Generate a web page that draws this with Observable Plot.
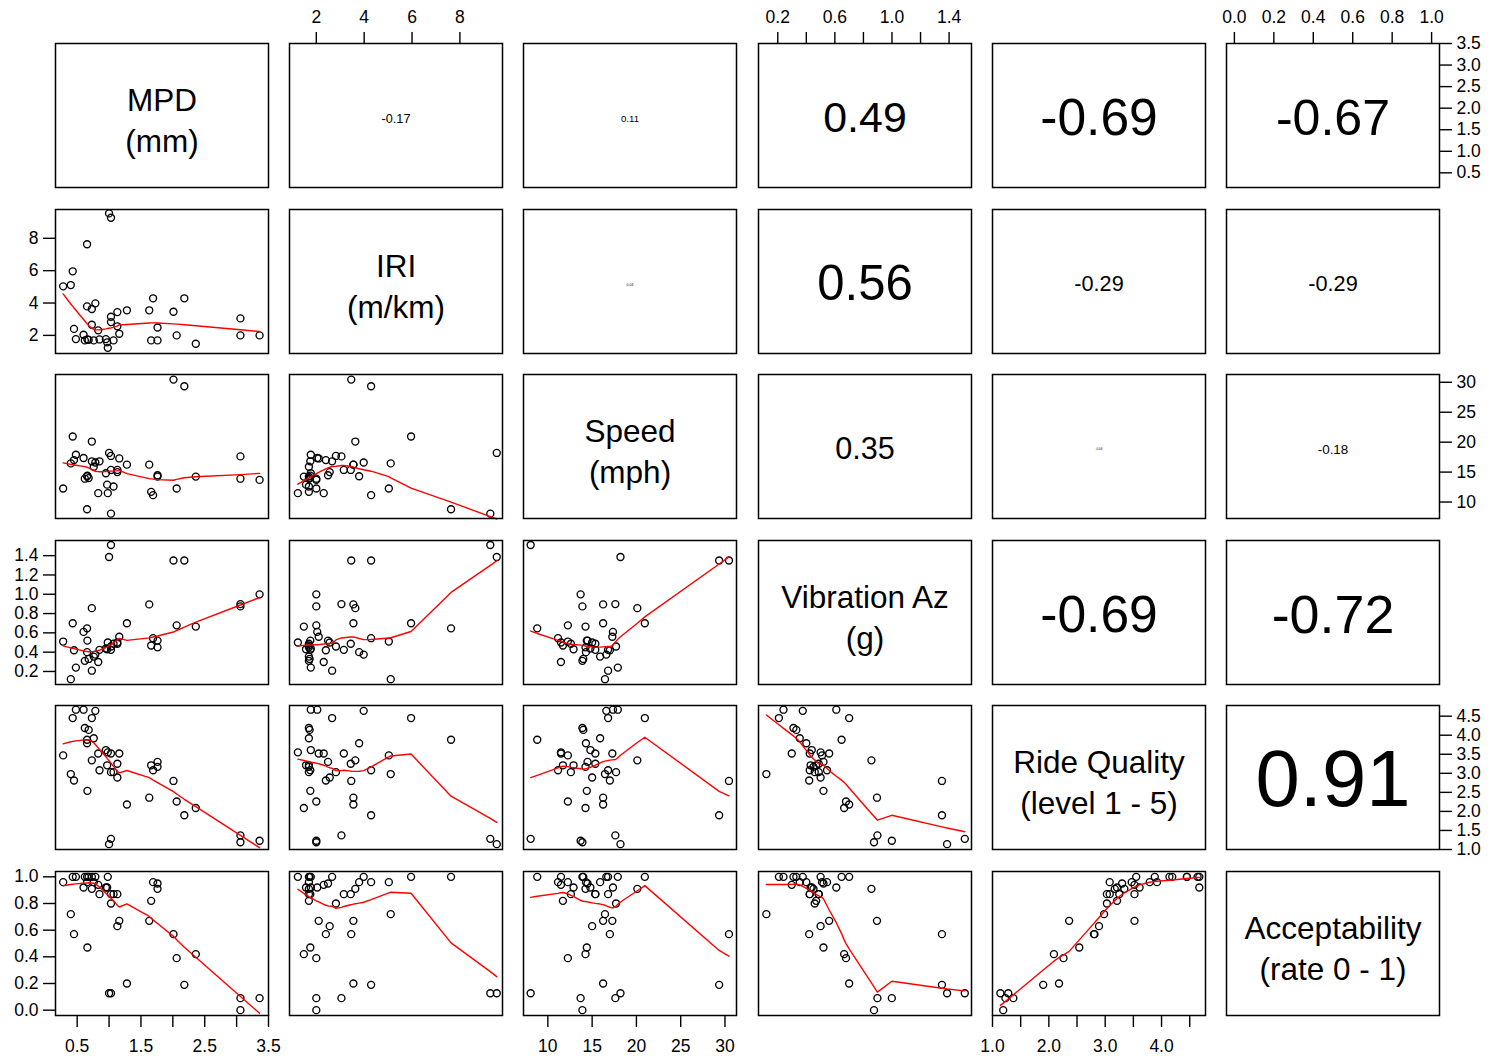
<!DOCTYPE html>
<html>
<head>
<meta charset="utf-8">
<script src="https://cdn.jsdelivr.net/npm/d3@7"></script>
<script src="https://cdn.jsdelivr.net/npm/@observablehq/plot@0.6"></script>
<style>
  html, body { margin: 0; padding: 0; background: white; }
  #chart { position: relative; width: 1491px; height: 1059px; background: white; overflow: hidden; }
  #chart svg { position: absolute; }
</style>
</head>
<body>
<div id="chart"></div>
<script>
// ---- Data: one entry per observed road section ----
const mpd    = [0.28,0.40,0.43,0.45,0.48,0.60,0.62,0.655,0.655,0.66,0.68,0.73,0.73,0.76,0.785,0.83,0.85,0.95,0.97,0.98,1.00,1.03,1.03,1.03,1.07,1.13,1.13,1.16,1.28,1.63,1.66,1.69,1.76,1.76,2.01,2.06,2.18,2.36,3.06,3.06,3.36];
const iri    = [5.03,5.11,5.96,2.40,1.77,2.04,1.69,7.63,3.79,1.75,1.72,3.63,2.66,1.69,3.98,2.31,1.75,1.77,1.57,1.23,9.54,9.27,2.82,3.15,1.69,3.44,2.56,2.10,3.55,3.55,1.69,4.29,2.49,1.69,3.46,2.00,4.29,1.48,3.05,2.00,2.00];
const speed  = [12.26,16.45,20.95,17.0,17.9,17.35,13.9,8.8,14.3,14.4,14.0,20.1,16.8,15.9,16.6,11.48,16.8,14.8,12.9,11.48,18.2,8.06,17.7,15.36,12.6,15.36,15.0,17.28,16.24,16.24,11.7,11.15,14.48,14.25,30.45,12.26,29.34,14.25,17.62,13.9,13.7];
const vib    = [0.51,0.12,0.70,0.42,0.24,0.61,0.31,0.647,0.40,0.52,0.33,0.856,0.208,0.354,0.375,0.298,0.424,0.438,0.43,0.50,1.386,1.51,0.459,0.424,0.487,0.487,0.50,0.56,0.70,0.895,0.469,0.545,0.52,0.45,1.35,0.678,1.35,0.665,0.898,0.874,0.999];
const ride   = [3.47,2.98,4.45,2.81,4.67,4.67,4.19,3.88,3.79,2.54,4.14,3.34,4.45,3.92,4.64,3.52,3.08,3.61,3.21,3.55,1.14,1.28,3.03,3.52,3.03,3.25,2.89,3.52,2.18,2.36,3.21,3.08,3.30,3.17,2.80,2.26,1.90,2.09,1.37,1.19,1.23];
const accept = [0.96,0.72,1.00,0.57,1.00,0.92,1.00,1.00,0.96,0.47,1.00,0.91,1.00,0.96,1.00,0.94,0.87,0.92,0.92,1.00,0.127,0.127,0.80,0.87,0.87,0.87,0.63,0.67,0.20,0.67,0.82,0.96,0.95,0.91,0.57,0.39,0.19,0.42,0.09,0.00,0.09];

const varLabels = ["MPD\n(mm)", "IRI\n(m/km)", "Speed\n(mph)", "Vibration Az\n(g)", "Ride Quality\n(level 1 - 5)", "Acceptability\n(rate 0 - 1)"];

// correlation texts shown in the upper panels (row-major upper triangle)
const corrText = ["-0.17","0.11","0.49","-0.69","-0.67",
                  "0.04","0.56","-0.29","-0.29",
                  "0.35","-0.04","-0.18",
                  "-0.69","-0.72",
                  "0.91"];

// axis limits of each variable
const limits = [[0.16, 3.50], [0.88, 9.78], [7.25, 31.3], [0.065, 1.557], [1.0, 4.78], [-0.04, 1.04]];

// tick values and labels (x axes drop some labels, as in the reference)
const mpdTicks = [0.5,1.0,1.5,2.0,2.5,3.0,3.5];
const mpdLabX  = ["0.5","","1.5","","2.5","","3.5"];
const mpdLabY  = ["0.5","1.0","1.5","2.0","2.5","3.0","3.5"];
const iriTicks = [2,4,6,8];
const iriLab   = ["2","4","6","8"];
const speedTicks = [10,15,20,25,30];
const speedLab   = ["10","15","20","25","30"];
const vibTicks = [0.2,0.4,0.6,0.8,1.0,1.2,1.4];
const vibLabX  = ["0.2","","0.6","","1.0","","1.4"];
const vibLabY  = ["0.2","0.4","0.6","0.8","1.0","1.2","1.4"];
const rideTicks = [1.0,1.5,2.0,2.5,3.0,3.5,4.0,4.5];
const rideLabX  = ["1.0","","2.0","","3.0","","4.0",""];
const rideLabY  = ["1.0","1.5","2.0","2.5","3.0","3.5","4.0","4.5"];
const accTicks = [0.0,0.2,0.4,0.6,0.8,1.0];
const accLab   = ["0.0","0.2","0.4","0.6","0.8","1.0"];

const series = [mpd, iri, speed, vib, ride, accept];
const ticks  = [mpdTicks, iriTicks, speedTicks, vibTicks, rideTicks, accTicks];
const labX   = [mpdLabX, iriLab, speedLab, vibLabX, rideLabX, accLab];
const labY   = [mpdLabY, iriLab, speedLab, vibLabY, rideLabY, accLab];

// ---- R's lowess (clowess), as used by panel.smooth ----
function lowess(xIn, yIn, f = 2/3, nsteps = 3) {
  const n = xIn.length;
  const ord = d3.range(n).sort((a, b) => xIn[a] - xIn[b]);
  const x = [0, ...ord.map(k => xIn[k])];
  const y = [0, ...ord.map(k => yIn[k])];
  const ys = new Array(n + 1).fill(0);
  const rw = new Array(n + 1).fill(0);
  const res = new Array(n + 1).fill(0);
  const delta = 0.01 * (x[n] - x[1]);
  const ns = Math.max(2, Math.min(n, Math.floor(f * n + 1e-7)));
  function lowest(xs, nleft, nright, userw) {
    const w = res;
    const range = x[n] - x[1];
    const h = Math.max(xs - x[nleft], x[nright] - xs);
    const h9 = 0.999 * h, h1 = 0.001 * h;
    let a = 0, j = nleft;
    while (j <= n) {
      w[j] = 0;
      const r = Math.abs(x[j] - xs);
      if (r <= h9) {
        if (r <= h1) w[j] = 1;
        else { const q = r / h; const t = 1 - q * q * q; w[j] = t * t * t; }
        if (userw) w[j] *= rw[j];
        a += w[j];
      } else if (x[j] > xs) break;
      j++;
    }
    const nrt = j - 1;
    if (a <= 0) return null;
    for (j = nleft; j <= nrt; j++) w[j] /= a;
    if (h > 0) {
      a = 0;
      for (j = nleft; j <= nrt; j++) a += w[j] * x[j];
      let b = xs - a, c = 0;
      for (j = nleft; j <= nrt; j++) c += w[j] * (x[j] - a) * (x[j] - a);
      if (Math.sqrt(c) > 0.001 * range) {
        b /= c;
        for (j = nleft; j <= nrt; j++) w[j] *= (b * (x[j] - a) + 1);
      }
    }
    let s = 0;
    for (j = nleft; j <= nrt; j++) s += w[j] * y[j];
    return s;
  }
  let iter = 1;
  while (iter <= nsteps + 1) {
    let nleft = 1, nright = ns, last = 0, i = 1;
    for (;;) {
      if (nright < n) {
        const d1 = x[i] - x[nleft], d2 = x[nright + 1] - x[i];
        if (d1 > d2) { nleft++; nright++; continue; }
      }
      const v = lowest(x[i], nleft, nright, iter > 1);
      ys[i] = v === null ? y[i] : v;
      if (last < i - 1) {
        const denom = x[i] - x[last];
        for (let j = last + 1; j < i; j++) {
          const alpha = (x[j] - x[last]) / denom;
          ys[j] = alpha * ys[i] + (1 - alpha) * ys[last];
        }
      }
      last = i;
      const cut = x[last] + delta;
      for (i = last + 1; i <= n; i++) {
        if (x[i] > cut) break;
        if (x[i] === x[last]) { ys[i] = ys[last]; last = i; }
      }
      i = Math.max(last + 1, i - 1);
      if (last >= n) break;
    }
    for (let k = 1; k <= n; k++) res[k] = y[k] - ys[k];
    let sc = 0;
    for (let k = 1; k <= n; k++) sc += Math.abs(res[k]);
    sc /= n;
    if (iter > nsteps) break;
    const s = res.slice(1).map(Math.abs).sort((a, b) => a - b);
    const m1 = Math.floor(n / 2);
    let cmad;
    if (n % 2 === 0) { const m2 = n - m1 - 1; cmad = 3 * (s[m1] + s[m2]); }
    else cmad = 6 * s[m1];
    if (cmad < 1e-7 * sc) break;
    const c9 = 0.999 * cmad, c1 = 0.001 * cmad;
    for (let k = 1; k <= n; k++) {
      const r = Math.abs(res[k]);
      rw[k] = r <= c1 ? 1 : r <= c9 ? Math.pow(1 - Math.pow(r / cmad, 2), 2) : 0;
    }
    iter++;
  }
  return x.slice(1).map((xv, k) => ({x: xv, y: ys[k + 1]}));
}

// ---- layout ----
const FONT = "'Liberation Sans', Arial, Helvetica, sans-serif";
const PW = 213, PH = 144, M = 60;
const colLeft = d3.range(6).map(j => Math.round(55 + j * 234.2));
const rowTop  = d3.range(6).map(i => Math.round(43 + i * 165.6));
const charW = {"-": 0.333, ".": 0.278};
const emWidth = s => Array.from(s).reduce((a, c) => a + (charW[c] ?? 0.556), 0);

const chart = document.getElementById("chart");
let ci = 0;
for (let i = 0; i < 6; i++) {
  for (let j = 0; j < 6; j++) {
    const marks = [];
    if (i === j) {
      marks.push(Plot.text([varLabels[i]], {frameAnchor: "middle", text: d => d, fontSize: 31.5, lineHeight: 1.3, fill: "black", dy: 3}));
    } else if (j > i) {
      const t = corrText[ci++];
      const r = Math.abs(parseFloat(t));
      const fs = 0.8 * r * PW / emWidth(t);
      marks.push(Plot.text([t], {frameAnchor: "middle", text: d => d, fontSize: fs, fill: "black", dy: 3}));
    } else {
      const pts = mpd.map((_, k) => ({x: series[j][k], y: series[i][k]}));
      marks.push(Plot.dot(pts, {x: "x", y: "y", r: 3.5, stroke: "black", strokeWidth: 1.35, fill: "none"}));
      marks.push(Plot.line(lowess(series[j], series[i]), {x: "x", y: "y", stroke: "#ff0000", strokeWidth: 1.4}));
    }
    marks.push(Plot.frame({stroke: "black", strokeWidth: 1.5}));
    // axes as in R's pairs(): alternate sides
    if (i === 0 && j % 2 === 1) {
      const lm = new Map(ticks[j].map((t, k) => [t, labX[j][k]]));
      marks.push(Plot.axisX(ticks[j], {anchor: "top", tickSize: 12, tickPadding: 9, tickFormat: d => lm.get(d) ?? "", label: null, strokeWidth: 1.4}));
    }
    if (i === 5 && j % 2 === 0) {
      const lm = new Map(ticks[j].map((t, k) => [t, labX[j][k]]));
      marks.push(Plot.axisX(ticks[j], {anchor: "bottom", tickSize: 12, tickPadding: 12, tickFormat: d => lm.get(d) ?? "", label: null, strokeWidth: 1.4}));
    }
    if (j === 0 && i % 2 === 1) {
      const lm = new Map(ticks[i].map((t, k) => [t, labY[i][k]]));
      marks.push(Plot.axisY(ticks[i], {anchor: "left", tickSize: 12, tickPadding: 5, tickFormat: d => lm.get(d) ?? "", label: null, strokeWidth: 1.4}));
    }
    if (j === 5 && i % 2 === 0) {
      const lm = new Map(ticks[i].map((t, k) => [t, labY[i][k]]));
      marks.push(Plot.axisY(ticks[i], {anchor: "right", tickSize: 12, tickPadding: 5, tickFormat: d => lm.get(d) ?? "", label: null, strokeWidth: 1.4}));
    }
    const svg = Plot.plot({
      width: PW + 2 * M,
      height: PH + 2 * M,
      margin: M,
      x: {domain: limits[j], axis: null},
      y: {domain: limits[i], axis: null},
      style: {background: "transparent", fontFamily: FONT, fontSize: "17.5px", color: "black", overflow: "visible"},
      marks
    });
    svg.style.left = (colLeft[j] - M) + "px";
    svg.style.top = (rowTop[i] - M) + "px";
    svg.style.position = "absolute";
    svg.style.maxWidth = "none";
    chart.appendChild(svg);
  }
}
</script>
</body>
</html>
